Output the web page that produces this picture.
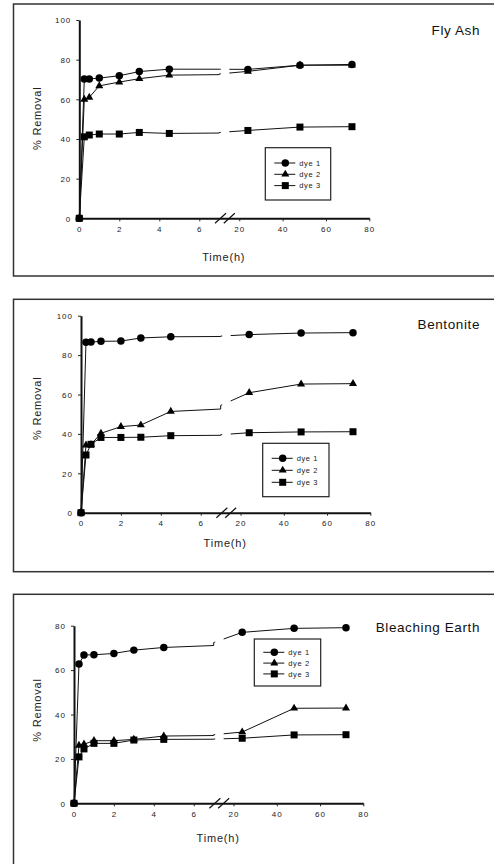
<!DOCTYPE html>
<html>
<head>
<meta charset="utf-8">
<script src="https://cdn.jsdelivr.net/npm/d3@7"></script>
<style>
  body { margin: 0; background: #fff; }
  svg { display: block; font-family: "Liberation Sans", Arial, sans-serif; }
</style>
</head>
<body>
<div class="chart"></div>
<script>
// sampling times (h) and axis ticks
const times = [0, 0.25, 0.5, 1, 2, 3, 4.5, 24, 48, 72];
const seriesNames = ["dye 1", "dye 2", "dye 3"];
const leftTicks = [0, 2, 4, 6];
const rightTicks = [20, 40, 60, 80];

// % removal
const flyAsh1 = [0, 70.2, 70.3, 70.7, 71.9, 74.0, 75.2, 75.1, 77.2, 77.6];
const flyAsh2 = [0, 60.0, 61.0, 66.8, 68.7, 70.4, 72.2, 74.1, 77.2, 77.2];
const flyAsh3 = [0, 41.1, 42.0, 42.5, 42.5, 43.3, 42.8, 44.3, 46.0, 46.2];

const bentonite1 = [0, 86.5, 86.6, 87.0, 87.1, 88.7, 89.3, 90.4, 91.2, 91.4];
const bentonite2 = [0, 34.3, 34.6, 40.3, 43.7, 44.5, 51.4, 60.9, 65.3, 65.5];
const bentonite3 = [0, 29.3, 34.7, 38.2, 38.2, 38.3, 39.1, 40.6, 41.0, 41.1];

const bleaching1 = [0, 62.7, 66.8, 66.9, 67.5, 69.0, 70.2, 77.0, 78.8, 79.1];
const bleaching2 = [0, 26.1, 26.6, 28.2, 28.2, 28.8, 30.3, 32.1, 42.8, 42.9];
const bleaching3 = [0, 20.9, 24.5, 27.0, 27.0, 28.5, 28.8, 29.3, 30.8, 30.9];

// the x axis is broken: 0-7 h on the left, ~10.8-80 h on the right
const breakLo = 7, breakHi = 10.8;

const panels = [
  { title: "Fly Ash", series: [flyAsh1, flyAsh2, flyAsh3], yMax: 100,
    boxTop: 4, boxBottom: 276, x0: 79.3, x1: 369.3, yTop: 20, yBottom: 218.3,
    titleY: 35, timeY: 260.7, labelY: 118.3,
    legend: { x: 265.3, y: 147.7, w: 65.4, h: 52.3, first: 15.3, step: 11.3 } },
  { title: "Bentonite", series: [bentonite1, bentonite2, bentonite3], yMax: 100,
    boxTop: 299.3, boxBottom: 571.7, x0: 81, x1: 370.3, yTop: 315.7, yBottom: 512.7,
    titleY: 329.3, timeY: 547.3, labelY: 408.3,
    legend: { x: 262.7, y: 443.3, w: 66.3, h: 53.4, first: 15, step: 12 } },
  { title: "Bleaching Earth", series: [bleaching1, bleaching2, bleaching3], yMax: 80,
    boxTop: 594.3, boxBottom: 900, x0: 74, x1: 363.3, yTop: 625.7, yBottom: 803.3,
    titleY: 631.7, timeY: 842, labelY: 710,
    legend: { x: 254.3, y: 639, w: 66.4, h: 47, first: 13.3, step: 10.8 } }
];

const symbols = [d3.symbolCircle, d3.symbolTriangle, d3.symbolSquare];
const symbolSizes = [44, 28, 49];

const svg = d3
  .select(".chart")
  .append("svg")
  .attr("width", 494)
  .attr("height", 864);

//add the break vertices so the line follows the broken scale like the original
function brokenPath(vals) {
  const pts = [];
  times.forEach((t, i) => {
    if (i > 0) {
      const t0 = times[i - 1];
      [breakLo, breakHi].forEach((b) => {
        if (t0 < b && t > b) {
          pts.push([b, vals[i - 1] + ((vals[i] - vals[i - 1]) * (b - t0)) / (t - t0)]);
        }
      });
    }
    pts.push([t, vals[i]]);
  });
  return pts;
}

panels.forEach((p, pi) => {
  const g = svg.append("g");

  //frame
  g.append("rect")
    .attr("x", 13.5)
    .attr("y", p.boxTop)
    .attr("width", 520)
    .attr("height", p.boxBottom - p.boxTop)
    .attr("fill", "none")
    .attr("stroke", "#333")
    .attr("stroke-width", 1.5);

  //scales
  const xBreak = p.x0 + ((p.x1 - p.x0) * 140) / 290;
  const xScale = d3
    .scaleLinear()
    .domain([0, breakLo, breakHi, 80])
    .range([p.x0, xBreak, xBreak, p.x1]);

  const yScale = d3
    .scaleLinear()
    .domain([0, p.yMax])
    .range([p.yBottom, p.yTop]);

  //x axis
  const xAxis = d3
    .axisBottom(xScale)
    .tickValues(leftTicks.concat(rightTicks))
    .tickSize(3)
    .tickSizeOuter(0)
    .tickPadding(5);

  const xg = g
    .append("g")
    .attr("transform", `translate(0, ${p.yBottom})`)
    .call(xAxis);

  //y axis
  const yAxis = d3
    .axisLeft(yScale)
    .tickValues(d3.range(0, p.yMax + 1, 20))
    .tickSize(3)
    .tickSizeOuter(0)
    .tickPadding(5);

  const yg = g
    .append("g")
    .attr("transform", `translate(${p.x0}, 0)`)
    .call(yAxis);

  [xg, yg].forEach((ag) => {
    ag.attr("font-family", null).attr("font-size", null);
    ag.select(".domain").attr("stroke", "#111").attr("stroke-width", 2);
    ag.selectAll(".tick line").attr("stroke", "#222");
    ag.selectAll(".tick text")
      .attr("fill", "#222")
      .style("font-size", "8px")
      .style("letter-spacing", "1px");
  });
  yg.selectAll(".tick text").attr("dy", "0.35em");

  //break marks on the x axis
  [xBreak + 1.2, xBreak + 10].forEach((cx) => {
    g.append("line")
      .attr("x1", cx - 5.5)
      .attr("y1", p.yBottom + 5)
      .attr("x2", cx + 5.5)
      .attr("y2", p.yBottom - 5)
      .attr("stroke", "#111")
      .attr("stroke-width", 1.2);
  });

  //clip out the gap in the lines
  const clipId = "clip" + pi;
  const clip = g.append("clipPath").attr("id", clipId);
  clip.append("rect")
    .attr("x", p.x0 - 10)
    .attr("y", p.yTop - 20)
    .attr("width", xBreak + 1.5 - (p.x0 - 10))
    .attr("height", p.yBottom - p.yTop + 40);
  clip.append("rect")
    .attr("x", xBreak + 10)
    .attr("y", p.yTop - 20)
    .attr("width", p.x1 - xBreak)
    .attr("height", p.yBottom - p.yTop + 40);

  const line = d3
    .line()
    .x((d) => xScale(d[0]))
    .y((d) => yScale(d[1]));

  //series lines
  p.series.forEach((vals) => {
    g.append("path")
      .attr("d", line(brokenPath(vals)))
      .attr("fill", "none")
      .attr("stroke", "#111")
      .attr("stroke-width", 1)
      .attr("clip-path", `url(#${clipId})`);
  });

  //series markers
  p.series.forEach((vals, si) => {
    g.selectAll(null)
      .data(vals)
      .enter()
      .append("path")
      .attr("d", d3.symbol(symbols[si], symbolSizes[si]))
      .attr("transform", (d, i) => `translate(${xScale(times[i])}, ${yScale(d)})`)
      .attr("fill", "#000");
  });

  //title
  g.append("text")
    .attr("x", 480)
    .attr("y", p.titleY)
    .attr("text-anchor", "end")
    .style("font-size", "13.5px")
    .style("letter-spacing", "0.6px")
    .attr("fill", "#111")
    .text(p.title);

  //axis titles
  g.append("text")
    .attr("x", (p.x0 + p.x1) / 2 - 0.5)
    .attr("y", p.timeY)
    .attr("text-anchor", "middle")
    .style("font-size", "11px")
    .style("letter-spacing", "0.8px")
    .attr("fill", "#222")
    .text("Time(h)");

  g.append("text")
    .attr("transform", `translate(40.5, ${p.labelY}) rotate(-90)`)
    .attr("text-anchor", "middle")
    .style("font-size", "11px")
    .style("letter-spacing", "0.8px")
    .attr("fill", "#222")
    .text("% Removal");

  //legend
  const lg = g.append("g").attr("transform", `translate(${p.legend.x}, ${p.legend.y})`);
  lg.append("rect")
    .attr("width", p.legend.w)
    .attr("height", p.legend.h)
    .attr("fill", "#fff")
    .attr("stroke", "#222")
    .attr("stroke-width", 1.2);

  seriesNames.forEach((name, si) => {
    const ly = p.legend.first + si * p.legend.step;
    lg.append("line")
      .attr("x1", 9)
      .attr("x2", 30)
      .attr("y1", ly)
      .attr("y2", ly)
      .attr("stroke", "#111");
    lg.append("path")
      .attr("d", d3.symbol(symbols[si], symbolSizes[si]))
      .attr("transform", `translate(20, ${ly})`)
      .attr("fill", "#000");
    lg.append("text")
      .attr("x", 34)
      .attr("y", ly)
      .attr("dy", "0.35em")
      .style("font-size", "7.5px")
      .style("letter-spacing", "0.6px")
      .attr("fill", "#222")
      .text(name);
  });
});
</script>
</body>
</html>
